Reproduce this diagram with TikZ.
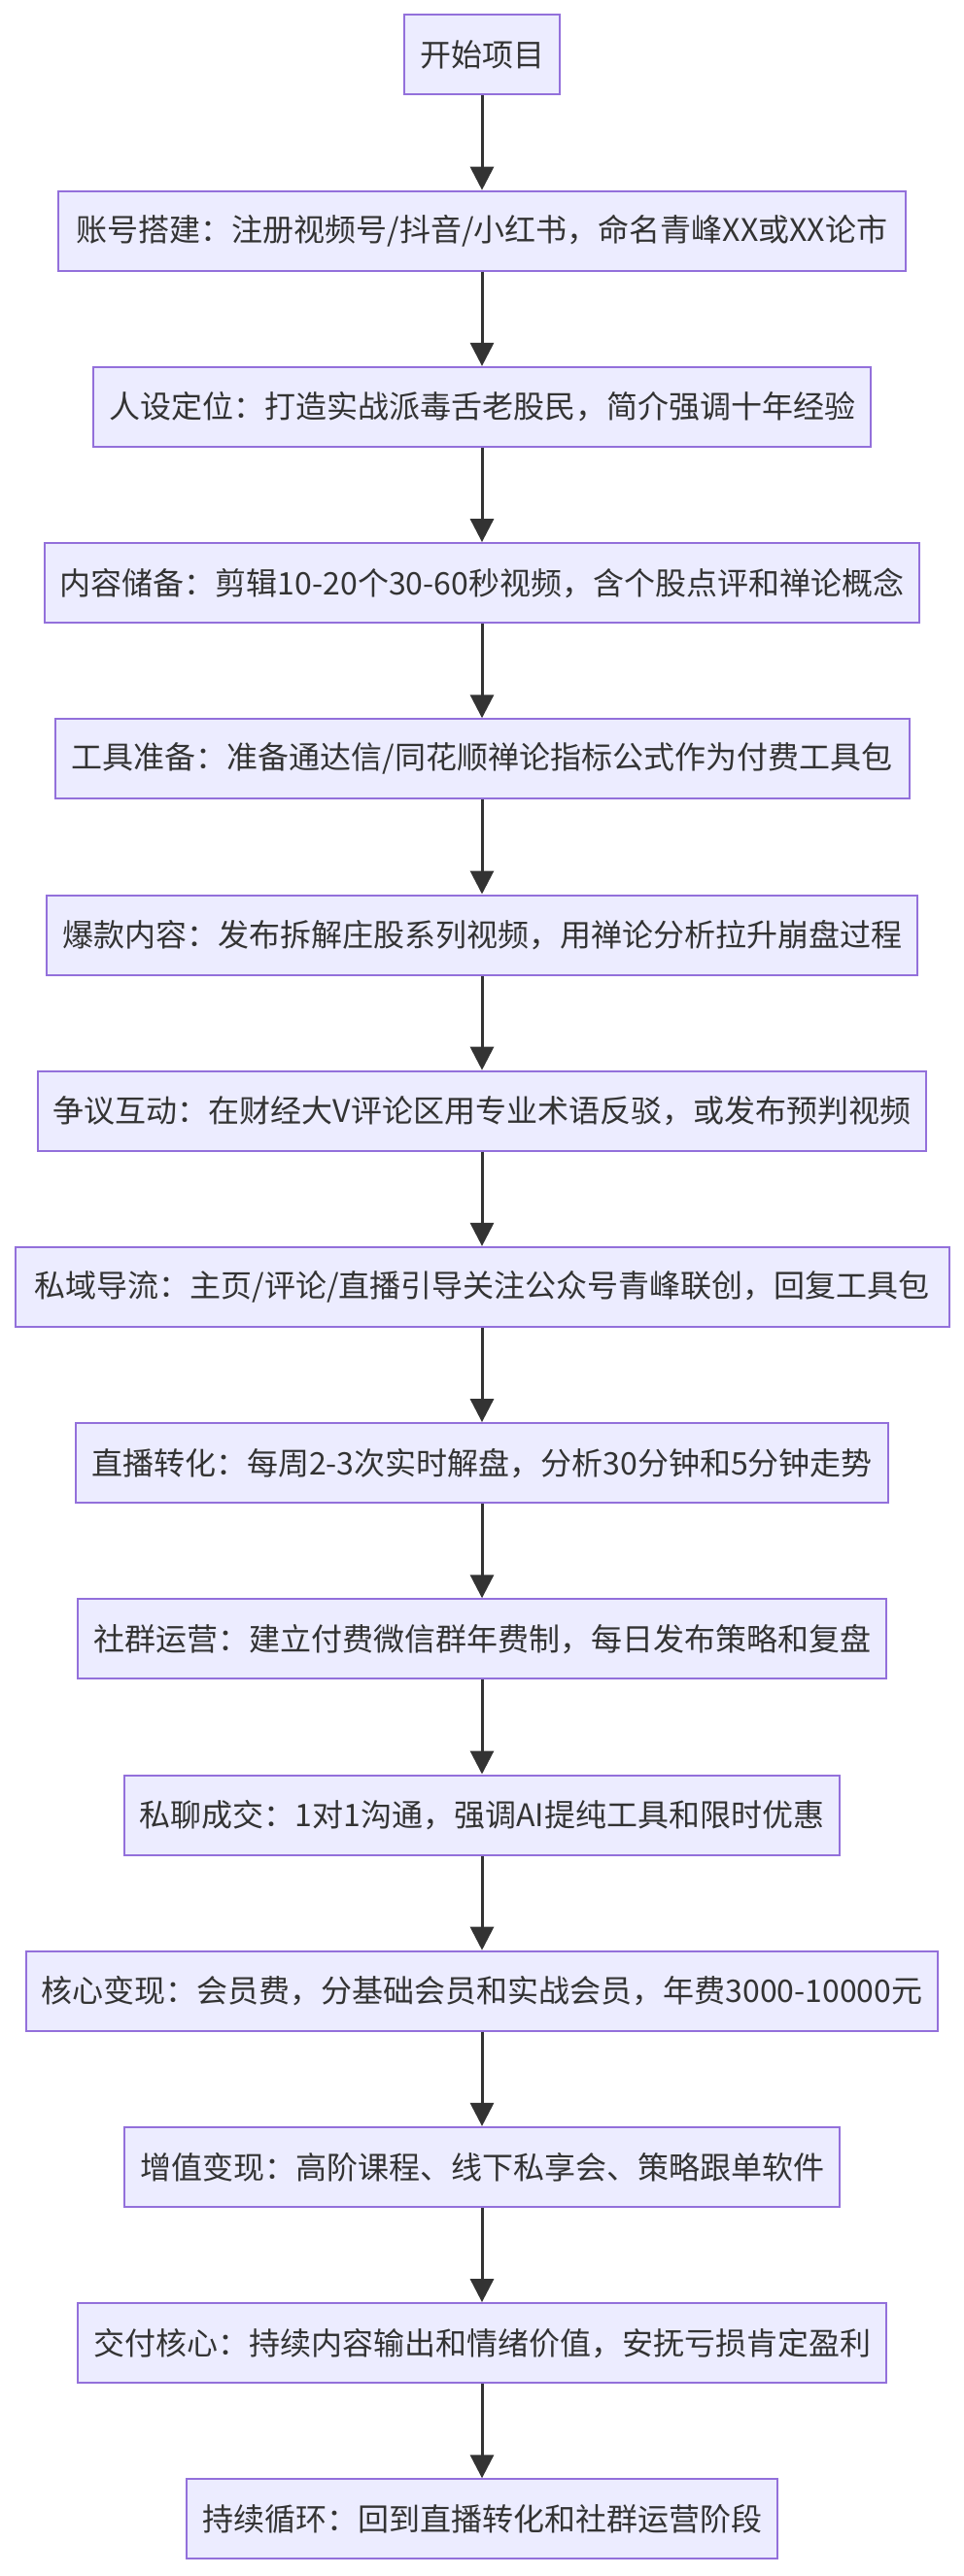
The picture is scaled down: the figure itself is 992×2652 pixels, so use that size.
\documentclass[tikz,border=0pt]{standalone}
\usepackage{fontspec}
\newfontfamily\cjk{Noto Sans CJK SC}
\usetikzlibrary{arrows.meta}
\definecolor{boxfill}{HTML}{ECECFF}
\definecolor{boxline}{HTML}{9370DB}
\definecolor{ink}{HTML}{333333}
\tikzset{
  stepbox/.style={draw=boxline, fill=boxfill, line width=2pt, rectangle,
    minimum height=82pt, inner xsep=16pt, inner ysep=0pt, text=ink,
    font=\cjk\fontsize{32}{38}\selectfont, anchor=center},
  flow/.style={draw=ink, line width=3pt, -{Triangle[length=24pt,width=24pt]}}
}
\begin{document}
\begin{tikzpicture}[x=1pt,y=-1pt]
\useasboundingbox (0,0) rectangle (992,2652);
\node[stepbox, minimum width=159pt] (n0) at (496,56.5) {开始项目};
\node[stepbox, minimum width=872pt] (n1) at (496,237.7) {账号搭建：注册视频号/抖音/小红书，命名青峰XX或XX论市};
\node[stepbox, minimum width=800pt] (n2) at (496,418.9) {人设定位：打造实战派毒舌老股民，简介强调十年经验};
\node[stepbox, minimum width=894pt] (n3) at (496,600.1) {内容储备：剪辑10-20个30-60秒视频，含个股点评和禅论概念};
\node[stepbox, minimum width=879pt] (n4) at (496,781.3) {工具准备：准备通达信/同花顺禅论指标公式作为付费工具包};
\node[stepbox, minimum width=894pt] (n5) at (496,962.5) {爆款内容：发布拆解庄股系列视频，用禅论分析拉升崩盘过程};
\node[stepbox, minimum width=913pt] (n6) at (496,1143.7) {争议互动：在财经大V评论区用专业术语反驳，或发布预判视频};
\node[stepbox, minimum width=961pt] (n7) at (496,1324.9) {私域导流：主页/评论/直播引导关注公众号青峰联创，回复工具包};
\node[stepbox, minimum width=831pt] (n8) at (496,1506.1) {直播转化：每周2-3次实时解盘，分析30分钟和5分钟走势};
\node[stepbox, minimum width=831pt] (n9) at (496,1687.3) {社群运营：建立付费微信群年费制，每日发布策略和复盘};
\node[stepbox, minimum width=732pt] (n10) at (496,1868.5) {私聊成交：1对1沟通，强调AI提纯工具和限时优惠};
\node[stepbox, minimum width=929pt] (n11) at (496,2049.7) {核心变现：会员费，分基础会员和实战会员，年费3000-10000元};
\node[stepbox, minimum width=736pt] (n12) at (496,2230.9) {增值变现：高阶课程、线下私享会、策略跟单软件};
\node[stepbox, minimum width=831pt] (n13) at (496,2412.1) {交付核心：持续内容输出和情绪价值，安抚亏损肯定盈利};
\node[stepbox, minimum width=607pt] (n14) at (496,2593.3) {持续循环：回到直播转化和社群运营阶段};
\foreach \a/\b in {n0/n1,n1/n2,n2/n3,n3/n4,n4/n5,n5/n6,n6/n7,n7/n8,n8/n9,n9/n10,n10/n11,n11/n12,n12/n13,n13/n14}
  \draw[flow] (\a.south) -- (\b.north);
\end{tikzpicture}
\end{document}
